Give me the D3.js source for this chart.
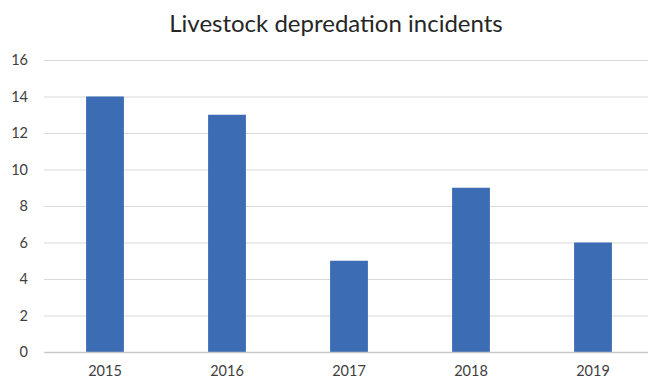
<!DOCTYPE html>
<html><head><meta charset="utf-8">
<script src="https://cdn.jsdelivr.net/npm/d3@7"></script>
<style>body{margin:0;background:#fff}</style>
</head><body>
<svg id="c" width="648" height="383"></svg>
<script>
const title = "Livestock depredation incidents";
const years = ["2015","2016","2017","2018","2019"];
const incidents = [14,13,5,9,6];
const yTicks = [0,2,4,6,8,10,12,14,16];

const svg = d3.select("#c");
const font = "Lato, 'Open Sans', sans-serif";
const x = d3.scaleBand().domain(years).range([44,654]).paddingInner(0.69).paddingOuter(0.345);
const y = d3.scaleLinear().domain([0,16]).range([352,60]);

svg.append("text").attr("x",336).attr("y",32).attr("text-anchor","middle")
  .attr("font-family",font).attr("font-size",24).attr("fill","#262626").text(title);

const ya = svg.append("g").attr("transform","translate(44,0)")
  .call(d3.axisLeft(y).tickValues(yTicks).tickSize(-610).tickFormat(d3.format("d")));
ya.select(".domain").remove();
ya.selectAll(".tick line").attr("stroke","#d9d9d9").attr("stroke-width",1.2);
ya.selectAll(".tick text").attr("x",-16).attr("font-family",font).attr("font-size",14.5).attr("fill","#404040");

svg.selectAll("rect.bar").data(incidents).join("rect").attr("class","bar")
  .attr("x",(d,i)=>x(years[i])).attr("width",x.bandwidth())
  .attr("y",d=>y(d)).attr("height",d=>y(0)-y(d)).attr("fill","#3c6db4");

const xa = svg.append("g").attr("transform","translate(0,352)")
  .call(d3.axisBottom(x).tickSize(0).tickPadding(14));
xa.select(".domain").attr("stroke","#c8c8c8").attr("stroke-width",1.5);
xa.selectAll(".tick text").attr("font-family",font).attr("font-size",14.5).attr("fill","#404040");
</script>
</body></html>
